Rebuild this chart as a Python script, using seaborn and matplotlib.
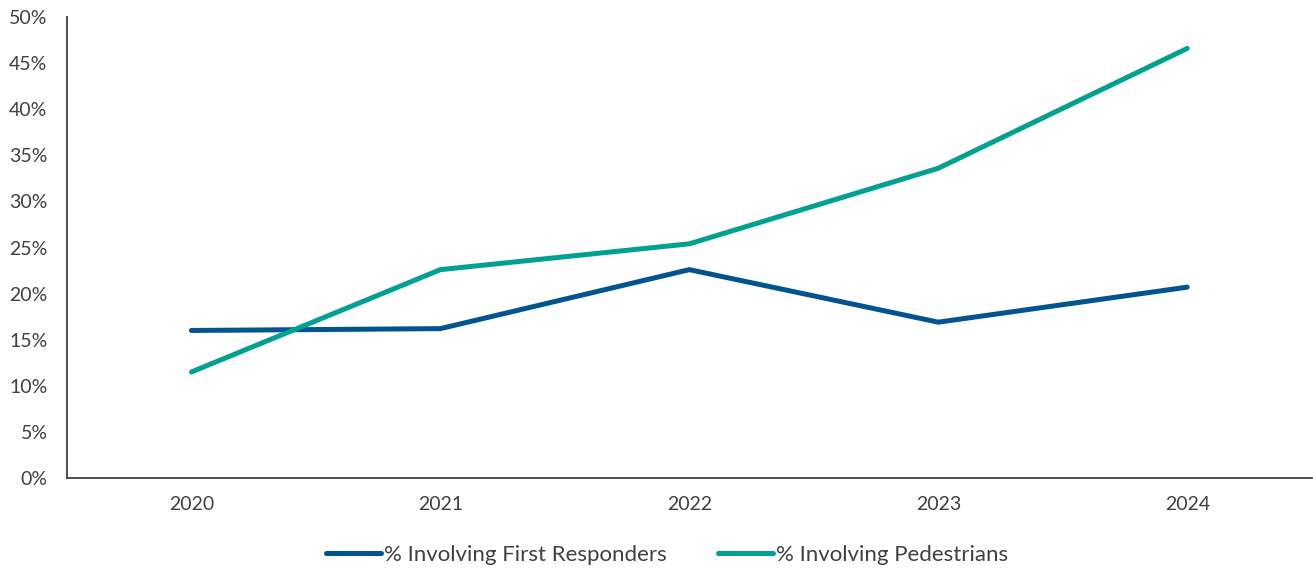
import matplotlib
matplotlib.use("Agg")
import matplotlib.pyplot as plt
import seaborn as sns
import pandas as pd
from matplotlib.ticker import FuncFormatter

years = ["2020", "2021", "2022", "2023", "2024"]
first_responders = [16.0, 16.2, 22.6, 16.9, 20.7]
pedestrians = [11.5, 22.6, 25.4, 33.6, 46.6]
series_names = ["% Involving First Responders", "% Involving Pedestrians"]
colors = ["#00548F", "#00A191"]

df = pd.DataFrame({
    "Year": years * 2,
    "Value": first_responders + pedestrians,
    "Series": [series_names[0]] * len(years) + [series_names[1]] * len(years),
})

sns.set_style("white")
plt.rcParams['font.family'] = ['Lato', 'DejaVu Sans']

fig = plt.figure(figsize=(13.13, 5.69), dpi=100)
ax = fig.add_axes([0.051, 0.160, 0.948, 0.810])

sns.lineplot(data=df, x="Year", y="Value", hue="Series", palette=colors,
             linewidth=3.6, ax=ax, sort=False, legend=True)
for line in ax.get_lines():
    line.set_solid_capstyle("round")
    line.set_solid_joinstyle("round")

ax.set_xlim(-0.5, 4.5)
ax.set_ylim(0, 50)
ax.set_yticks(range(0, 51, 5))
ax.yaxis.set_major_formatter(FuncFormatter(lambda v, p: f"{int(v)}%"))
ax.set_xlabel("")
ax.set_ylabel("")
ax.tick_params(axis="both", length=0, labelsize=14, labelcolor="#404040")
ax.tick_params(axis="x", pad=13)
ax.tick_params(axis="y", pad=14)
for s in ["top", "right"]:
    ax.spines[s].set_visible(False)
for s in ["left", "bottom"]:
    ax.spines[s].set_color("#404040")
    ax.spines[s].set_linewidth(1.3)

leg = ax.legend(loc="center", bbox_to_anchor=(0.482, -0.167), ncol=2, frameon=False,
                fontsize=16, handlelength=2.5, handletextpad=0.12, columnspacing=2.3)
for t in leg.get_texts():
    t.set_color("#404040")
for h in leg.get_lines():
    h.set_linewidth(3.6)
    h.set_solid_capstyle("round")

fig.savefig("out.png", dpi=100)
